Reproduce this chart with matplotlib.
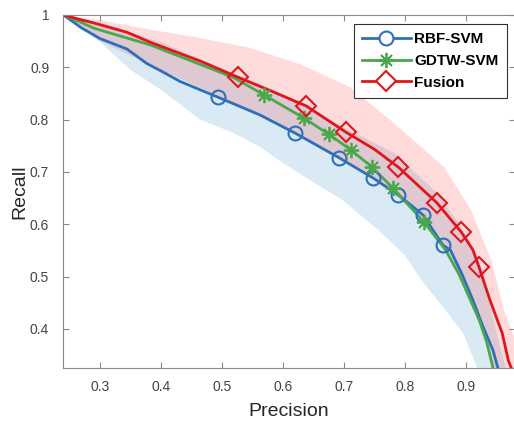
import matplotlib
matplotlib.use("Agg")
import matplotlib.pyplot as plt
from matplotlib.lines import Line2D

plt.rcParams["font.family"] = ["Liberation Sans", "DejaVu Sans"]

# curves (precision, recall)
rbf_p = [0.24, 0.27, 0.30, 0.344, 0.377, 0.40, 0.431, 0.493, 0.562, 0.62, 0.692, 0.748, 0.789, 0.829, 0.862,
         0.874, 0.893, 0.911, 0.928, 0.944, 0.952]
rbf_r = [1.0, 0.975, 0.955, 0.935, 0.907, 0.893, 0.873, 0.843, 0.809, 0.774, 0.727, 0.688, 0.656, 0.618, 0.560,
         0.551, 0.505, 0.455, 0.403, 0.359, 0.325]

gdtw_p = [0.24, 0.265, 0.289, 0.344, 0.382, 0.45, 0.518, 0.569, 0.634, 0.675, 0.711, 0.746, 0.780, 0.831,
          0.866, 0.888, 0.907, 0.922, 0.934, 0.944]
gdtw_r = [1.0, 0.988, 0.975, 0.956, 0.943, 0.912, 0.881, 0.847, 0.803, 0.772, 0.742, 0.709, 0.669, 0.604,
          0.551, 0.505, 0.455, 0.415, 0.373, 0.325]

fus_p = [0.24, 0.265, 0.289, 0.344, 0.382, 0.464, 0.526, 0.58, 0.638, 0.703, 0.75, 0.789, 0.852, 0.892,
         0.911, 0.921, 0.939, 0.959, 0.969, 0.974]
fus_r = [1.0, 0.992, 0.985, 0.967, 0.948, 0.912, 0.881, 0.855, 0.826, 0.776, 0.743, 0.709, 0.641, 0.585,
         0.551, 0.518, 0.455, 0.392, 0.340, 0.325]

# marker positions
rbf_mp = [0.493, 0.62, 0.692, 0.748, 0.789, 0.829, 0.862]
rbf_mr = [0.843, 0.774, 0.727, 0.688, 0.656, 0.618, 0.560]
gdtw_mp = [0.569, 0.634, 0.675, 0.711, 0.746, 0.780, 0.831]
gdtw_mr = [0.847, 0.803, 0.772, 0.742, 0.709, 0.669, 0.604]
fus_mp = [0.526, 0.638, 0.703, 0.789, 0.852, 0.892, 0.921]
fus_mr = [0.881, 0.826, 0.776, 0.709, 0.641, 0.585, 0.518]

# shaded bands
rbf_up_p = [0.24, 0.30, 0.40, 0.50, 0.60, 0.70, 0.782, 0.852, 0.892, 0.925, 0.941, 0.955, 0.965]
rbf_up_r = [1.0, 0.985, 0.948, 0.898, 0.848, 0.785, 0.736, 0.660, 0.595, 0.518, 0.436, 0.370, 0.325]
rbf_lo_p = [0.24, 0.30, 0.35, 0.40, 0.464, 0.518, 0.562, 0.60, 0.65, 0.698, 0.76, 0.80, 0.83, 0.87, 0.895, 0.918]
rbf_lo_r = [1.0, 0.948, 0.895, 0.857, 0.80, 0.775, 0.748, 0.717, 0.68, 0.646, 0.585, 0.54, 0.488, 0.43, 0.392, 0.325]

fus_up_p = [0.24, 0.30, 0.382, 0.46, 0.546, 0.63, 0.71, 0.782, 0.864, 0.908, 0.941, 0.962, 0.98, 0.995]
fus_up_r = [1.0, 0.99, 0.972, 0.957, 0.937, 0.905, 0.862, 0.793, 0.709, 0.627, 0.532, 0.436, 0.38, 0.325]
fus_lo_p = [0.24, 0.30, 0.40, 0.50, 0.62, 0.75, 0.83, 0.87, 0.91, 0.93, 0.945]
fus_lo_r = [1.0, 0.95, 0.895, 0.842, 0.772, 0.685, 0.612, 0.545, 0.46, 0.40, 0.325]

c_blue = "#2f6fba"
c_green = "#4aa84a"
c_red = "#e0161c"
star = (8, 2, 0)

fig = plt.figure(figsize=(5.14, 4.21), dpi=100)
ax = fig.add_axes([0.1226, 0.1259, 0.8794, 0.8385])

ax.fill(rbf_up_p + rbf_lo_p[::-1], rbf_up_r + rbf_lo_r[::-1], color="#0072bd", alpha=0.15, lw=0)
ax.fill(fus_up_p + fus_lo_p[::-1], fus_up_r + fus_lo_r[::-1], color="#ff0000", alpha=0.14, lw=0)

ax.plot(rbf_p, rbf_r, color=c_blue, lw=2)
ax.plot(gdtw_p, gdtw_r, color=c_green, lw=2)
ax.plot(fus_p, fus_r, color=c_red, lw=2)

ax.plot(rbf_mp, rbf_mr, ls="none", marker="o", ms=10, mfc="none", mec=c_blue, mew=1.5)
ax.plot(gdtw_mp, gdtw_mr, ls="none", marker=star, ms=11, mfc="none", mec=c_green, mew=1.3)
ax.plot(fus_mp, fus_mr, ls="none", marker="D", ms=10, mfc="none", mec=c_red, mew=1.5)

ax.set_xlim(0.2393, 0.980)
ax.set_ylim(0.3254, 1.0)
ax.set_xticks([0.3, 0.4, 0.5, 0.6, 0.7, 0.8, 0.9])
ax.set_xticklabels(["0.3", "0.4", "0.5", "0.6", "0.7", "0.8", "0.9"])
ax.set_yticks([0.4, 0.5, 0.6, 0.7, 0.8, 0.9, 1.0])
ax.set_yticklabels(["0.4", "0.5", "0.6", "0.7", "0.8", "0.9", "1"])
ax.tick_params(direction="in", length=4, width=0.8, colors="#888888", labelcolor="#444444",
               labelsize=10, top=True, right=True)
ax.tick_params(axis="x", pad=9)
ax.tick_params(axis="y", pad=10)
for s in ax.spines.values():
    s.set_color("#888888")
    s.set_linewidth(0.8)

ax.set_xlabel("Precision", fontsize=14, color="#262626", labelpad=6)
ax.set_ylabel("Recall", fontsize=14, color="#262626", labelpad=1)

handles = [
    Line2D([], [], color=c_blue, lw=2, marker="o", ms=10, mfc="white", mec=c_blue, mew=1.5),
    Line2D([], [], color=c_green, lw=2, marker=star, ms=11, mfc="white", mec=c_green, mew=1.3),
    Line2D([], [], color=c_red, lw=2, marker="D", ms=10, mfc="white", mec=c_red, mew=1.5),
]
leg = ax.legend(handles, ["RBF-SVM", "GDTW-SVM", "Fusion"], loc="upper right",
                bbox_to_anchor=(0.988, 0.983), prop={"weight": "bold", "size": 11},
                handlelength=3.2, handletextpad=0.2, labelspacing=0.5, borderpad=0.55,
                borderaxespad=0.2, fancybox=False, framealpha=1, edgecolor="#333333")
leg.get_frame().set_linewidth(0.8)

fig.savefig("out.png", dpi=100)
